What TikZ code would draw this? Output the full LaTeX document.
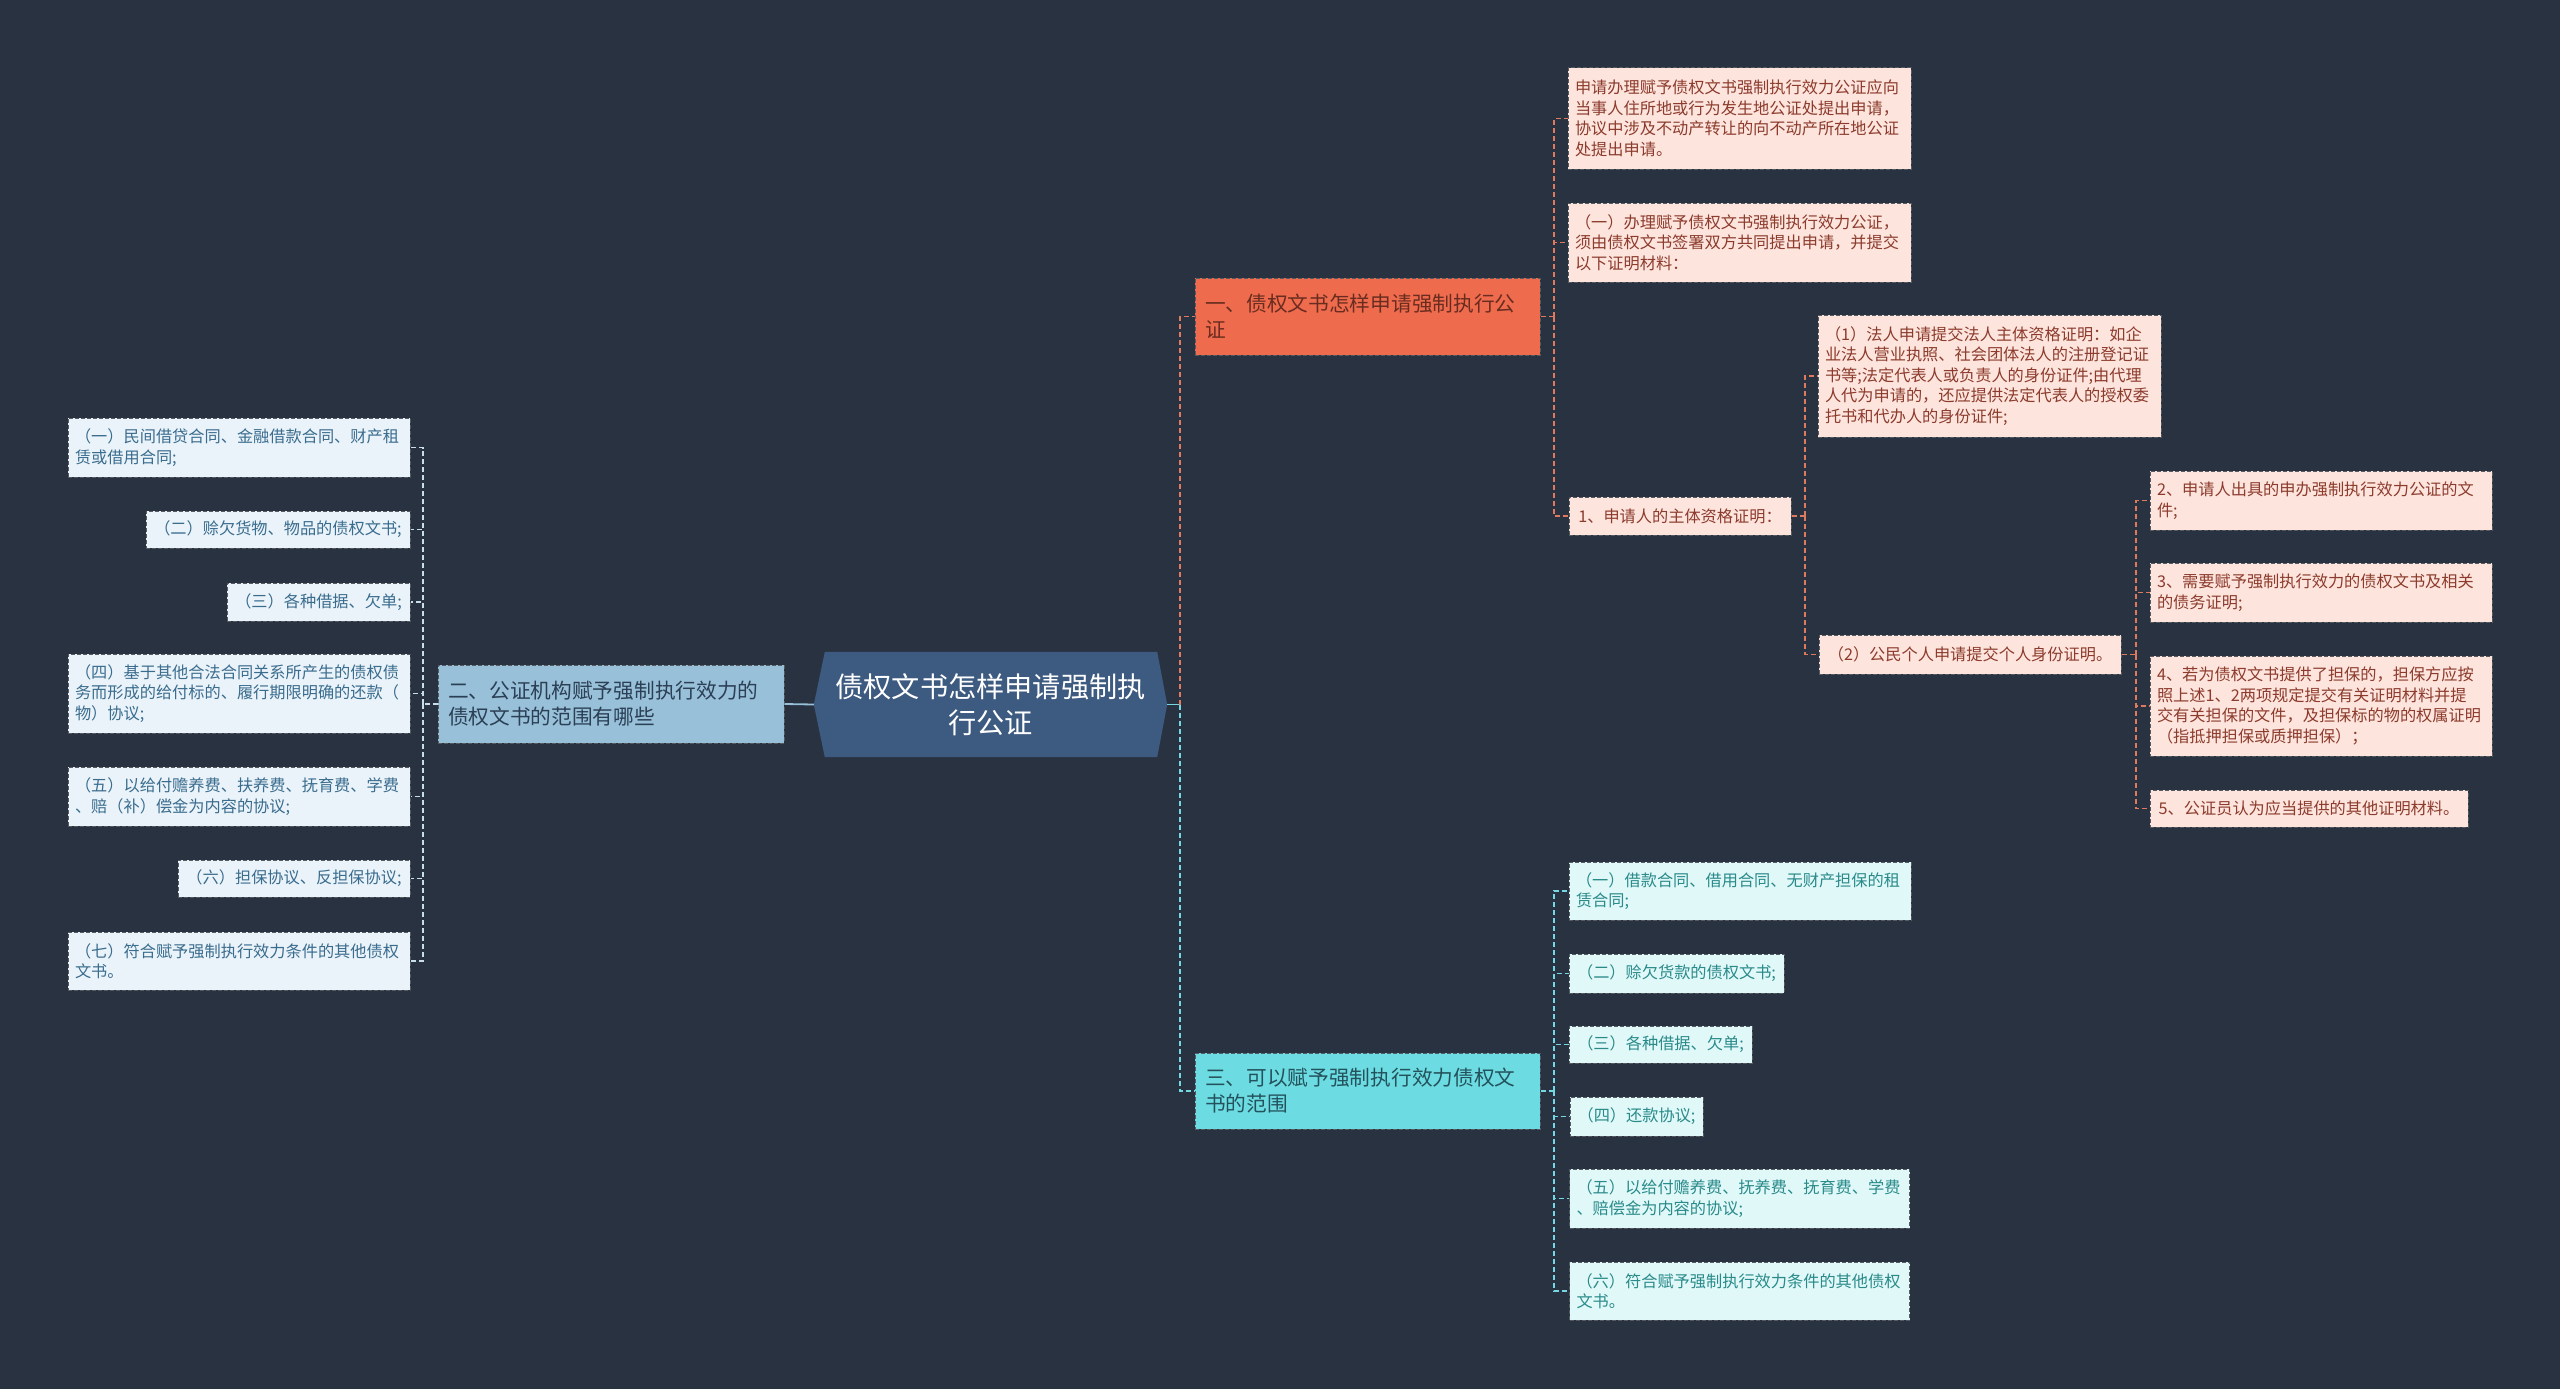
\documentclass[tikz,border=0pt]{standalone}
\usepackage{fontspec}
\setmainfont{Noto Sans CJK SC}
\usetikzlibrary{backgrounds}
\definecolor{bgc}{HTML}{293241}
\definecolor{rootfill}{HTML}{3D5A80}
\definecolor{orfill}{HTML}{EE6C4D}
\definecolor{ortext}{HTML}{6A2C20}
\definecolor{ltfill}{HTML}{98C1D9}
\definecolor{lttext}{HTML}{2B3F55}
\definecolor{cyfill}{HTML}{6CDCE2}
\definecolor{cytext}{HTML}{24525C}
\definecolor{pkfill}{HTML}{FDE4DD}
\definecolor{pktext}{HTML}{8C3B2C}
\definecolor{lbfill}{HTML}{EAF3F9}
\definecolor{lbtext}{HTML}{3A6C8E}
\definecolor{lcfill}{HTML}{E0F8F8}
\definecolor{lctext}{HTML}{2A8A8A}
\definecolor{orln}{HTML}{E07A5F}
\definecolor{cyln}{HTML}{74D8E4}
\definecolor{ltln}{HTML}{C9DDEA}
\definecolor{boxln}{HTML}{555A60}
\begin{document}
\begin{tikzpicture}[x=1pt,y=-1pt,
  box/.style={rectangle, draw=boxln, line width=1pt, dash pattern=on 4pt off 2pt, inner xsep=7pt, inner ysep=3pt, align=left},
  leaffont/.style={font=\fontsize{16.2}{20.5}\selectfont},
  leafP/.style={box, leaffont, fill=pkfill, text=pktext},
  leafB/.style={box, leaffont, fill=lbfill, text=lbtext},
  leafC/.style={box, leaffont, fill=lcfill, text=lctext},
  brbox/.style={box, inner xsep=10pt, font=\fontsize{20.7}{26}\selectfont},
  conn/.style={line width=1.8pt, dash pattern=on 5pt off 3pt},
  orconn/.style={conn, draw=orln},
  cyconn/.style={conn, draw=cyln},
  ltconn/.style={conn, draw=ltln},
]
\begin{pgfonlayer}{background}
\fill[bgc] (0,0) rectangle (2560,1389);
\end{pgfonlayer}
\useasboundingbox (0,0) rectangle (2560,1389);

% root
\node[font=\fontsize{28.2}{36}\selectfont, text=white, align=center, minimum width=353pt, minimum height=105pt, inner sep=0pt] (root) at (990.5,704.5) {债权文书怎样申请强制执\\行公证};
\begin{pgfonlayer}{background}
\fill[rootfill] ([xshift=11pt]root.north west) -- (root.west) -- ([xshift=11pt]root.south west) -- ([xshift=-10pt]root.south east) -- (root.east) -- ([xshift=-10pt]root.north east) -- cycle;
\end{pgfonlayer}

% main branches
\node[brbox, fill=orfill, text=ortext, text width=325pt, minimum height=77pt] (b1) at (1367.5,316.5) {一、债权文书怎样申请强制执行公\\证};
\node[brbox, fill=ltfill, text=lttext, text width=326pt, minimum height=78pt] (b2) at (611,704) {二、公证机构赋予强制执行效力的\\债权文书的范围有哪些};
\node[brbox, fill=cyfill, text=cytext, text width=325pt, minimum height=76pt] (b3) at (1367.5,1091) {三、可以赋予强制执行效力债权文\\书的范围};

% branch 1 children
\node[leafP, text width=329pt, minimum height=101pt] (a1) at (1739.5,118.5) {申请办理赋予债权文书强制执行效力公证应向\\当事人住所地或行为发生地公证处提出申请，\\协议中涉及不动产转让的向不动产所在地公证\\处提出申请。};
\node[leafP, text width=329pt, minimum height=79pt] (a2) at (1739.5,242.5) {（一）办理赋予债权文书强制执行效力公证，\\须由债权文书签署双方共同提出申请，并提交\\以下证明材料：};
\node[leafP, minimum width=222pt, minimum height=38pt] (a3) at (1680,516) {1、申请人的主体资格证明：};

\node[leafP, text width=329pt, minimum height=122pt] (p1) at (1989.5,376) {（1）法人申请提交法人主体资格证明：如企\\业法人营业执照、社会团体法人的注册登记证\\书等;法定代表人或负责人的身份证件;由代理\\人代为申请的，还应提供法定代表人的授权委\\托书和代办人的身份证件;};
\node[leafP, minimum width=302pt, minimum height=39pt] (p2) at (1970,654.5) {（2）公民个人申请提交个人身份证明。};

\node[leafP, text width=328pt, minimum height=59pt] (q1) at (2321,500.5) {2、申请人出具的申办强制执行效力公证的文\\件;};
\node[leafP, text width=328pt, minimum height=59pt] (q2) at (2321,592.5) {3、需要赋予强制执行效力的债权文书及相关\\的债务证明;};
\node[leafP, text width=328pt, minimum height=100pt] (q3) at (2321,706) {4、若为债权文书提供了担保的，担保方应按\\照上述1、2两项规定提交有关证明材料并提\\交有关担保的文件，及担保标的物的权属证明\\（指抵押担保或质押担保）；};
\node[leafP, minimum width=318pt, minimum height=37pt] (q4) at (2309,808.5) {5、公证员认为应当提供的其他证明材料。};

% branch 3 children
\node[leafC, text width=328pt, minimum height=58pt] (d1) at (1740,891) {（一）借款合同、借用合同、无财产担保的租\\赁合同;};
\node[leafC, minimum width=215pt, minimum height=39pt] (d2) at (1676.5,973.5) {（二）赊欠货款的债权文书;};
\node[leafC, minimum width=183pt, minimum height=37pt] (d3) at (1660.5,1044.5) {（三）各种借据、欠单;};
\node[leafC, minimum width=133pt, minimum height=39pt] (d4) at (1636.5,1116.5) {（四）还款协议;};
\node[leafC, text width=326pt, minimum height=59pt] (d5) at (1739.5,1198.5) {（五）以给付赡养费、抚养费、抚育费、学费\\、赔偿金为内容的协议;};
\node[leafC, text width=326pt, minimum height=58pt] (d6) at (1739.5,1291) {（六）符合赋予强制执行效力条件的其他债权\\文书。};

% branch 2 children
\node[leafB, text width=328pt, minimum height=59pt] (e1) at (239,447.5) {（一）民间借贷合同、金融借款合同、财产租\\赁或借用合同;};
\node[leafB, minimum width=264pt, minimum height=37pt] (e2) at (278,529.5) {（二）赊欠货物、物品的债权文书;};
\node[leafB, minimum width=183pt, minimum height=38pt] (e3) at (318.5,602) {（三）各种借据、欠单;};
\node[leafB, text width=328pt, minimum height=79pt] (e4) at (239,693.5) {（四）基于其他合法合同关系所产生的债权债\\务而形成的给付标的、履行期限明确的还款（\\物）协议;};
\node[leafB, text width=328pt, minimum height=59pt] (e5) at (239,796.5) {（五）以给付赡养费、扶养费、抚育费、学费\\、赔（补）偿金为内容的协议;};
\node[leafB, minimum width=232pt, minimum height=37pt] (e6) at (294,878.5) {（六）担保协议、反担保协议;};
\node[leafB, text width=328pt, minimum height=58pt] (e7) at (239,961) {（七）符合赋予强制执行效力条件的其他债权\\文书。};

% bus x positions
\coordinate (k0) at (1180,0);
\coordinate (k1) at (1554,0);
\coordinate (k2) at (1805,0);
\coordinate (k3) at (2136,0);
\coordinate (k4) at (423,0);

% root connectors
\draw[line width=1.8pt, cyln] (root.east) -- (root.east -| k0);
\draw[orconn] (root.east -| k0) |- (b1.west);
\draw[cyconn] (root.east -| k0) |- (b3.west);
\draw[line width=1.8pt, ltfill] (root.west) -- (b2.east);

% branch 1
\draw[orconn] (b1.east) -- (b1.east -| k1);
\foreach \n in {a1,a2,a3} \draw[orconn] (b1.east -| k1) |- (\n.west);
\draw[orconn] (a3.east) -- (a3.east -| k2);
\foreach \n in {p1,p2} \draw[orconn] (a3.east -| k2) |- (\n.west);
\draw[orconn] (p2.east) -- (p2.east -| k3);
\foreach \n in {q1,q2,q3,q4} \draw[orconn] (p2.east -| k3) |- (\n.west);

% branch 3
\draw[cyconn] (b3.east) -- (b3.east -| k1);
\foreach \n in {d1,d2,d3,d4,d5,d6} \draw[cyconn] (b3.east -| k1) |- (\n.west);

% branch 2
\draw[ltconn] (b2.west) -- (b2.west -| k4);
\foreach \n in {e1,e2,e3,e4,e5,e6,e7} \draw[ltconn] (b2.west -| k4) |- (\n.east);
\end{tikzpicture}
\end{document}
